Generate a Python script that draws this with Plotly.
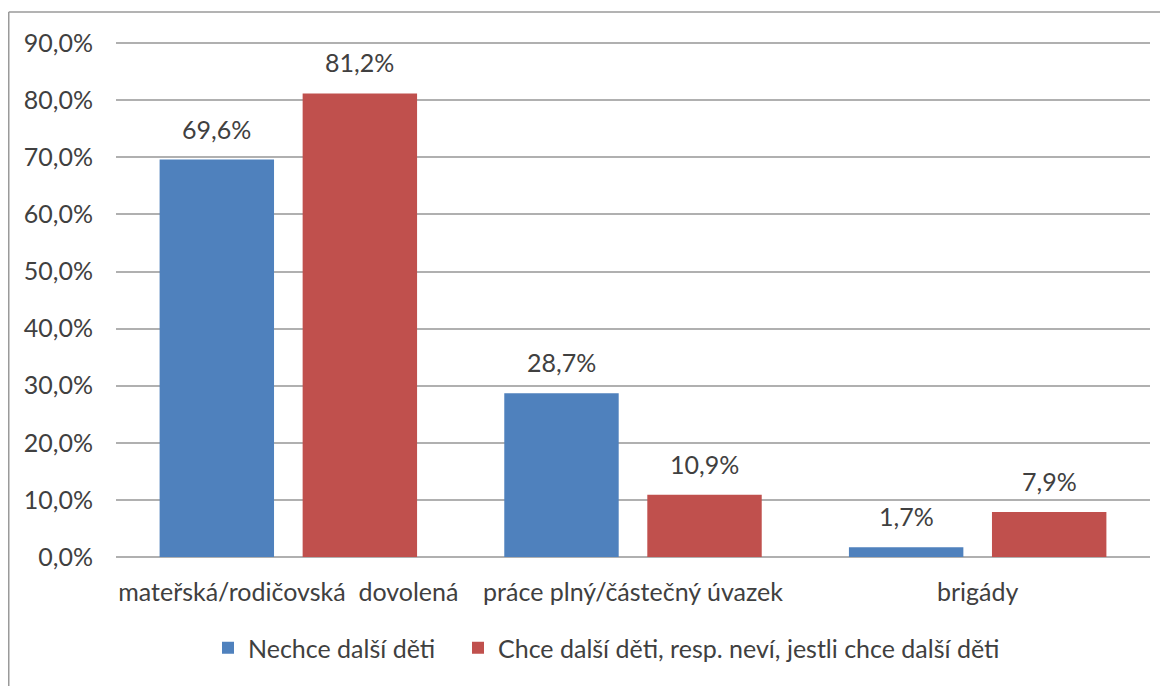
import plotly.graph_objects as go

categories = ["mateřská/rodičovská\u00a0 dovolená", "práce plný/částečný úvazek", "brigády"]
series_names = ["Nechce další děti", "Chce další děti, resp. neví, jestli chce další děti"]
nechce = [69.6, 28.7, 1.7]
chce = [81.2, 10.9, 7.9]
y_ticks = [0, 10, 20, 30, 40, 50, 60, 70, 80, 90]
y_tick_labels = [f"{v:.1f}".replace(".", ",") + "%" for v in y_ticks]

colors = ["#4F81BD", "#C0504D"]
font_family = "Lato, 'Open Sans', sans-serif"
text_color = "#404040"
FS = 25

BARGAP = 0.17
BARGROUPGAP = 0.2

fig = go.Figure()
legend_ids = ["legend", "legend2"]
for name, vals, col, lg in zip(series_names, [nechce, chce], colors, legend_ids):
    fig.add_trace(go.Bar(x=categories, y=vals, name=name, legend=lg,
                         marker=dict(color=col, line=dict(width=0))))

# value labels above bars
slot = (1 - BARGAP) / 2
for si, vals in enumerate([nechce, chce]):
    off = -slot / 2 if si == 0 else slot / 2
    for i, v in enumerate(vals):
        fig.add_annotation(x=i + off, y=v, xref="x", yref="y",
                           text=f"{v:.1f}".replace(".", ",") + "%",
                           showarrow=False, yanchor="bottom", yshift=14,
                           font=dict(size=FS, color=text_color, family=font_family))

# figure is placed at page offset (8, 8)
W, H = 1160, 678
L, R, T, B = 108, 18, 34, 129
pw, ph = W - L - R, H - T - B
fx0 = (0.75 - L) / pw
fx1 = (W + 5 - L) / pw
fy1 = (H - B - 4) / ph
fy0 = (H - B - (H + 5)) / ph
fig.add_shape(type="line", xref="paper", yref="paper", x0=fx0, x1=fx1, y0=fy1, y1=fy1,
              line=dict(color="#9A9A9A", width=1.5))
fig.add_shape(type="line", xref="paper", yref="paper", x0=fx0, x1=fx0, y0=fy0, y1=fy1,
              line=dict(color="#9A9A9A", width=1.5))

leg_common = dict(orientation="h", xanchor="left", y=(H - B - 640) / ph, yanchor="middle",
                  font=dict(size=FS, color=text_color), itemwidth=30, bgcolor="rgba(0,0,0,0)")

fig.update_layout(
    width=W, height=H,
    margin=dict(l=L, r=R, t=T, b=B, autoexpand=False),
    paper_bgcolor="white", plot_bgcolor="white",
    barmode="group", bargap=BARGAP, bargroupgap=BARGROUPGAP,
    font=dict(family=font_family, size=FS, color=text_color),
    showlegend=True,
    legend=dict(x=(200 - L) / pw, **leg_common),
    legend2=dict(x=(450 - L) / pw, **leg_common),
    xaxis=dict(showgrid=False, ticks="", showline=False, tickfont=dict(size=FS, color=text_color),
               ticklabelstandoff=18),
    yaxis=dict(range=[0, 90.2], tickvals=y_ticks, ticktext=y_tick_labels,
               showgrid=True, gridcolor="#B0B0B0", gridwidth=1.5,
               zeroline=True, zerolinecolor="#B0B0B0", zerolinewidth=1.5,
               showline=False, ticks="", tickfont=dict(size=FS, color=text_color),
               ticklabelstandoff=22),
)

fig.write_html("out.html")
